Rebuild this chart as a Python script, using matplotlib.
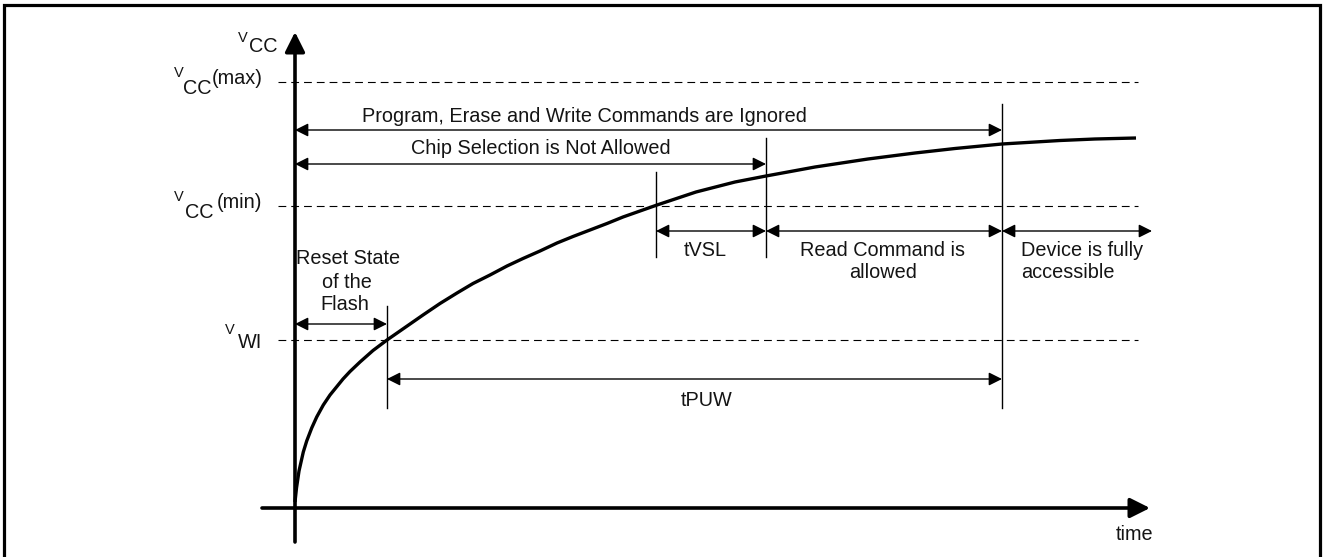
import numpy as np
import matplotlib
matplotlib.use('Agg')
import matplotlib.pyplot as plt
from matplotlib.patches import Rectangle

# levels (arbitrary voltage units)
v_max = 426
v_min = 302
v_wi = 168

# event times (arbitrary time units)
t_wi = 92      # Vcc reaches VWI
t_vsl = 361    # Vcc reaches Vcc(min)
t_cs = 471     # end of tVSL
t_puw = 707    # end of tPUW
t_last = 857   # right end of last arrow

# Vcc ramp
curve_t = [0, 1.5, 4, 8.3, 11.7, 16.7, 21.7, 28.3, 35, 48, 55, 65, 78, 92,
           128, 145, 162, 178, 195, 212, 228, 245, 262, 278, 295, 312, 328,
           345, 362, 401, 440, 471, 520, 573, 620, 660, 707, 765, 800, 841]
curve_v = [6, 20, 37, 56, 67, 80, 91, 103, 113, 129, 136.5, 146, 157.5, 168,
           193, 204.5, 215, 224.5, 233, 242, 249.5, 257, 265, 271.5, 278, 284.5, 291,
           297, 303, 316, 326, 332, 341, 349, 355, 359.5, 364, 367.5, 369, 370]

plt.rcParams['font.family'] = ['Liberation Sans', 'DejaVu Sans']
txt_col = '#141414'
fs = 14.3

fig = plt.figure(figsize=(13.27, 5.57), dpi=100)
ax = fig.add_axes([0, 0, 1, 1])
ax.set_xlim(-295, 1032)
ax.set_ylim(-49, 508)
ax.axis('off')

# frame round the figure (bottom edge falls outside the picture)
ax.add_patch(Rectangle((-291, -80), 1316, 583, fill=False, lw=2.3, ec='black'))

# axes with arrows
axis_kw = dict(arrowstyle='-|>,head_length=0.6,head_width=0.3', mutation_scale=20,
               lw=2.6, color='black', shrinkA=0, shrinkB=0)
ax.annotate('', xy=(0, 476), xytext=(0, -34), arrowprops=axis_kw)
ax.annotate('', xy=(855, 0), xytext=(-33, 0), arrowprops=axis_kw)

# dashed levels
for lv in [v_max, v_min, v_wi]:
    ax.plot([-17, 843], [lv, lv], color='black', lw=0.8, ls=(0, (7, 4.5)))

# Vcc curve
ax.plot(curve_t, curve_v, color='black', lw=2.4, solid_joinstyle='round',
        solid_capstyle='butt')

# vertical markers
thin = 1.0
ax.plot([t_wi, t_wi], [100, 202], color='black', lw=thin)
ax.plot([t_vsl, t_vsl], [251, 336], color='black', lw=thin)
ax.plot([t_cs, t_cs], [251, 370], color='black', lw=thin)
ax.plot([t_puw, t_puw], [100, 404], color='black', lw=thin)

arr_kw = dict(arrowstyle='<|-|>,head_length=0.4,head_width=0.2', mutation_scale=20,
              lw=thin, color='black', shrinkA=0, shrinkB=0)


def span(x1, x2, y):
    ax.annotate('', xy=(x2, y), xytext=(x1, y), arrowprops=arr_kw)


span(0, t_puw, 378)
span(0, t_cs, 344)
span(t_vsl, t_cs, 277)
span(t_cs, t_puw, 277)
span(t_puw, t_last, 277)
span(0, t_wi, 184)
span(t_wi, t_puw, 129)

tk = dict(fontsize=fs, color=txt_col, va='center')
ax.text(289, 391, 'Program, Erase and Write Commands are Ignored', ha='center', **tk)
ax.text(246, 359, 'Chip Selection is Not Allowed', ha='center', **tk)
ax.text(410, 258, 'tVSL', ha='center', **tk)
ax.text(588, 258, 'Read Command is', ha='center', **tk)
ax.text(588, 236, 'allowed', ha='center', **tk)
ax.text(726, 258, 'Device is fully', ha='left', **tk)
ax.text(726, 236, 'accessible', ha='left', **tk)
ax.text(53, 250, 'Reset State', ha='center', **tk)
ax.text(52, 226, 'of the', ha='center', **tk)
ax.text(50, 203, 'Flash', ha='center', **tk)
ax.text(412, 108, 'tPUW', ha='center', **tk)
ax.text(840, -27, 'time', ha='center', **tk)

# V labels: small "V", larger subscript part, then suffix
sml = dict(fontsize=10.5, color=txt_col, va='center', ha='right')
big = dict(fontsize=fs, color=txt_col, va='center', ha='right')
ax.text(-47, 470, 'V', **sml)
ax.text(-18, 462, 'CC', **big)

ax.text(-111, 435, 'V', **sml)
ax.text(-83, 420, 'CC', **big)
ax.text(-32, 430, '(max)', **big)

ax.text(-111, 311, 'V', **sml)
ax.text(-82, 296, 'CC', **big)
ax.text(-33, 306, '(min)', **big)

ax.text(-60, 178, 'V', **sml)
ax.text(-33, 166, 'WI', **big)

fig.savefig('out.png', dpi=100)
